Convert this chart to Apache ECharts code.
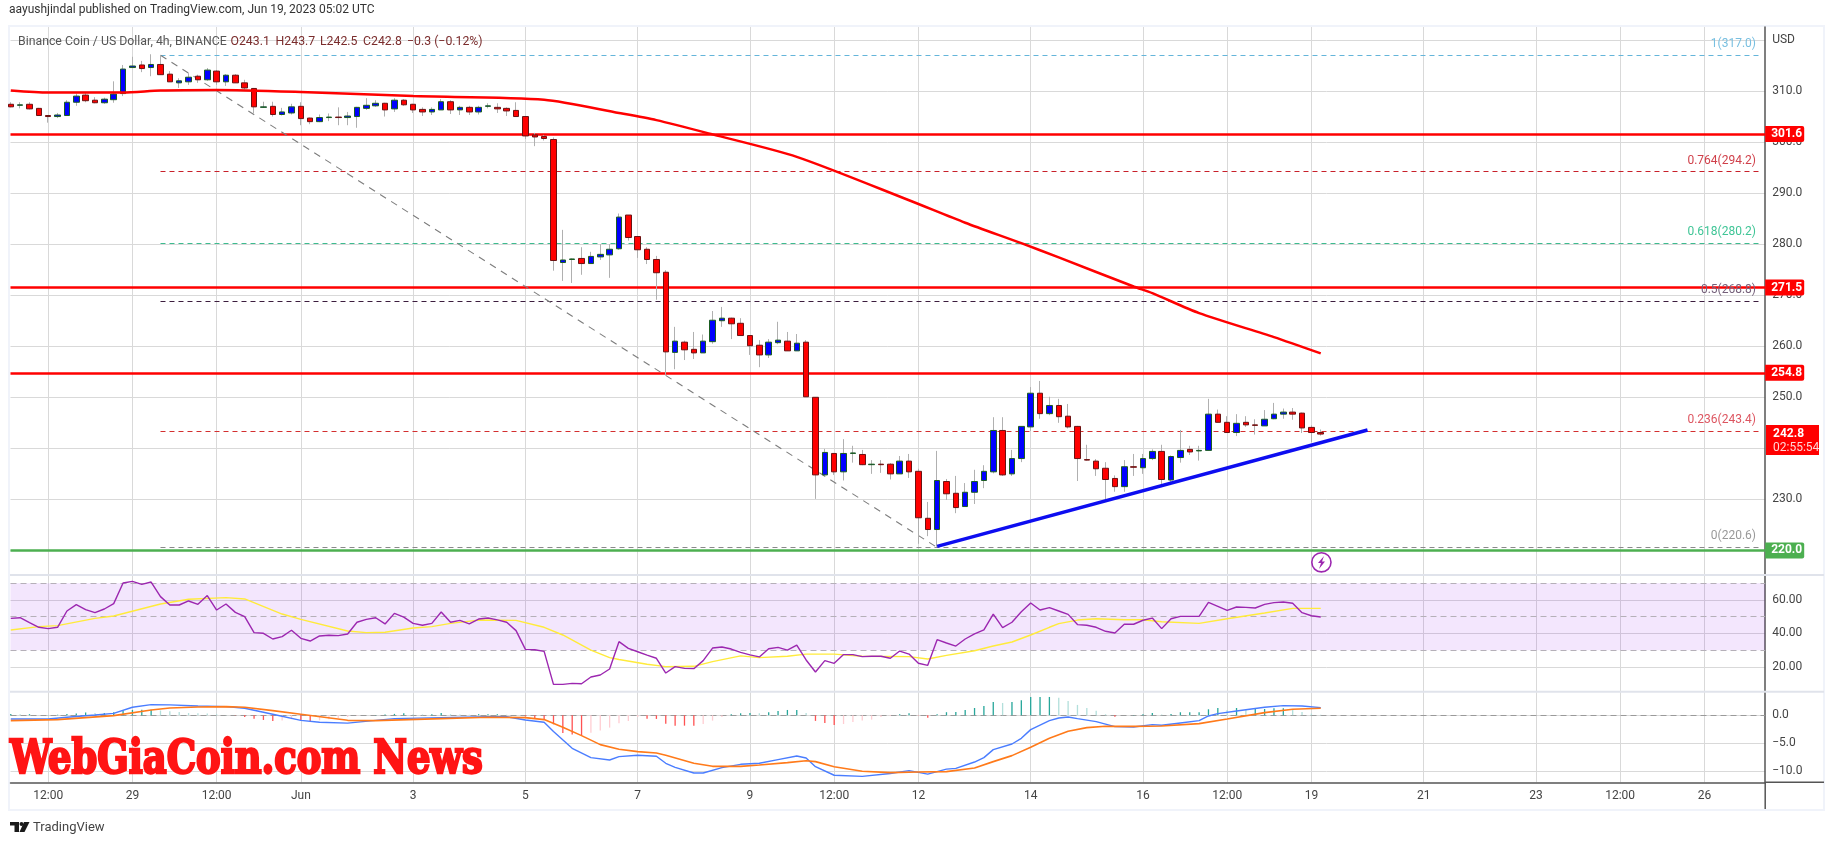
<!DOCTYPE html>
<html>
<head>
<meta charset="utf-8">
<style>html,body{margin:0;padding:0;background:#fff}#c{width:1835px;height:845px}</style>
<script src="https://cdn.jsdelivr.net/npm/echarts@6/dist/echarts.min.js"></script>
</head>
<body>
<div id="c"></div>
<script>
// ---- price data (4h candles) ----
const opens = [307.4,307.2,307.4,306.6,305.2,305,305.2,307.8,309.2,308.2,307.7,308.3,309.5,314.6,315.1,314.6,315.2,313.3,311.6,311.8,312.9,312.2,313.9,311.8,313.1,311.6,310.5,306.8,307,305.4,305.7,307,304.7,304,304.8,304.9,304.8,305,306.6,307.1,307.6,306.5,308.2,307.4,306.4,305.9,306.3,307.9,306.3,306.8,305.9,307,306.8,306.6,306.2,305,301.4,301.1,300.5,276.4,277,277.2,276.2,277.5,277.9,279.1,285.7,281.5,279,277,274.5,258.8,260.8,259.4,258.7,260.9,265,265.5,264.5,262.1,260.2,258.3,260.7,261,259.1,260.8,250,234.8,239,235.4,239,238.8,236.8,236.9,236.9,235,237.5,235.5,226.3,224.1,233.5,231.2,228.6,231.4,233.7,235.4,243.5,235,238,244.2,250.8,246.8,248.4,246.3,244.3,237.8,237.5,236.1,234.1,232.5,236.4,236.2,238,239.4,233.8,238.2,239.8,239.5,239.6,246.7,245.1,243.1,245.1,244.6,244.4,245.8,246.7,247.1,246.9,244.1,243.1];
const closes = [306.9,307.3,306.5,305.2,305,305.3,307.8,309,308.1,307.7,308.4,309.4,314.3,314.9,314.4,315.2,313.2,311.8,312,312.7,312.2,314.1,311.8,313.1,311.6,310.6,306.9,306.9,305.4,305.9,306.9,304.6,304,304.8,304.9,304.8,305.1,306.8,307.2,307.6,306.3,308.2,307.3,306.3,305.9,306.4,307.9,306.3,306.8,305.9,306.8,307.1,306.5,306.1,305,301.2,301,300.7,276.8,276.9,277.1,276.2,277.6,278,279,285.3,281.3,278.9,277,274.4,258.9,261,259.3,258.7,261,265.1,265.5,264.4,262.1,260.1,258.3,260.8,261.2,259.1,260.6,250.1,234.8,239.2,235.4,239,239.1,236.8,236.9,236.8,235,237.5,235.4,226.4,224.1,233.7,231.1,228.4,231.4,233.5,235.5,243.5,234.8,238,244.3,250.8,246.8,248.4,246.2,244.2,238,237.7,236,233.9,232.5,236.4,236.3,238,239.4,233.9,238.4,239.6,239.3,239.6,246.7,245.1,243.1,244.9,244.6,244.5,245.7,246.7,247.1,246.7,244,243.1,242.8];
const lows = [306.8,306.6,306.4,305.1,303.8,304.7,305.2,307.1,307.8,307.6,307.5,307.7,309,314.6,313.7,312.9,313.2,311.8,310.6,311.2,311.6,312,311.2,311,311.6,310.3,305.6,306.7,305,305.2,305.4,303.3,303.5,303.9,304.1,303.3,303.3,302.8,306.3,306.9,305,305.9,307.1,305.7,305.1,305.3,306.3,305.5,305.3,305.3,305.4,306.6,305.7,305.1,305,300.6,299.2,300.3,274.8,272.8,272.4,274,276.2,276.9,273.4,278.9,280.7,277.3,276.1,269.1,254.4,255.5,257.3,257.5,258.7,260.5,263.8,261.4,262.1,258.3,255.9,257.7,260.4,259.1,259.1,250.1,230.1,234.8,234.8,233.7,237.2,236.7,235,235.2,233.9,235,234.2,221.3,222.8,220.7,229.9,227.3,228.6,229.1,232.2,235.1,234.6,234.6,237.3,243.4,245.8,246.5,245,243.9,233.6,237.6,234.6,229.9,231.5,231.5,234.6,235,237.7,232.4,232.8,237.2,238.7,237.6,239.6,245.1,243.1,242.4,244.2,242.7,244.4,245.7,245.8,245.6,243,241.2,242.5];
const highs = [307.8,307.8,307.8,306.7,305.3,305.7,308.2,309.5,309.7,308.8,308.7,311.9,315.1,316.7,315.9,317.2,317,313.9,312.5,313.5,313.2,314.5,314.1,313.3,313.3,312.2,310.6,307.9,307.9,306.7,307.5,307.8,304.8,305.4,305.6,306.8,305.9,306.9,308.6,308.2,307.7,308.6,308.4,307.5,306.8,306.8,308.4,308.2,307.1,307.1,307.1,307.6,307.6,306.8,307.8,305.1,301.8,301.4,300.9,282.8,277.2,279.4,278.5,280,280,286,285.7,281.5,279.4,277.7,274.9,263.8,261.1,262.8,262.3,266.9,267.7,265.6,265.5,262.1,261.2,261.4,264.8,262.8,262.4,261.2,250,239.9,239.1,241.8,240.5,239.7,237.7,237.7,237.1,238.5,238.9,236,229.5,239.5,234,234.6,233.2,235.8,236.7,246.1,246.1,239.7,244.3,252,253.2,250.1,249.7,248.7,244.4,240.7,237.9,237.3,234.7,237.7,238.9,238.9,239.8,240.7,238.6,243.6,240.5,240.5,249.7,247.6,246.3,246.7,246.3,245.7,247.5,248.9,247.8,247.9,247,244.5,243.7];
// ---- moving average on price ----
const maIdx = [0,4,12,16,22,31,43,57,65,69,75,84,96,102,108,112,120,122,127,135,140];
const maVal = [310.1,309.7,309.7,310.1,310.2,309.8,309,308.3,305.7,304.3,301.5,297.1,288.6,284.2,280.2,277.4,271.7,270.4,266.5,261.8,258.6];
// ---- horizontal levels ----
const redLevels = [301.6,271.5,254.8];
const greenLevels = [220.0];
const fibRatios = ['1','0.764','0.618','0.5','0.236','0'];
const fibPrices = [317.0,294.2,280.2,268.8,243.4,220.6];
const fibColors = ['#64b5da','#c8202a','#3dbb8f','#3c1d3e','#d32f2f','#8a8a8a'];
const fibTextColors = ['#78bfe0','#d0404a','#3fc596','#75607a','#dd5560','#999999'];
const fibSpan = [16,187.05];
const swingLine = [[16,317.0],[99,220.6]];
const supportLine = [[99,220.8],[145,243.6]];
// ---- RSI ----
const rsiValues = [49,49.4,46.5,43.7,42.9,43.7,53.4,57.2,54.2,52.4,54.6,57.8,70.1,71.1,69.3,70.7,62,57,57,59.4,57.4,62.6,54,57.6,52.6,50,40.5,40.1,36.7,38.1,41.9,37.1,35.5,38.5,38.9,38.7,39.7,46.7,48.4,49.4,45.7,52,49.8,46,44.9,46,52.8,46.7,47.8,45.7,48.6,49.2,48.1,46.7,41.7,30.5,30.3,29.3,9.6,9.6,10.2,10,14,15.2,18.8,35.1,31.1,29.1,27.1,25.2,16.4,20.2,19.2,19,23.8,31.3,31.9,30.7,28.7,27.2,26,30.9,31.7,30.1,33.1,24.2,17,23.8,22.2,27.4,27.4,26.2,26.4,26.4,25.2,29.5,27.7,22.2,21,36.3,34.3,32.5,36.7,39.7,42.1,51.6,43.5,46.7,53,58.2,54,55.4,53.4,51.4,45.3,44.9,43.7,41.3,40.3,45.5,45.5,47.9,49.2,42.9,48.8,50.2,50.2,50.2,58.6,56.2,53.8,55.8,55.6,55.2,57.4,58.4,58.8,58,52.4,50.6,49.8];
const rsiMaIdx = [0,3,5,9,11,16,19,23,25,29,31,36,38,40,43,45,47,50,54,57,59,62,64,65,68,70,73,75,78,80,83,85,88,91,96,98,100,103,105,107,109,111,112,114,116,119,121,123,127,130,134,137,140];
const rsiMaVal = [42.1,44.1,44.7,49,50.4,57.6,60.4,61.4,60.6,51.6,48.4,41.5,40.5,40.7,43.3,44.1,46,48,47.8,43.7,39.1,30.1,25.6,24.5,21.6,20.2,20.4,23.2,26.6,25.6,26.4,27.7,27.7,26.4,26.2,24.8,26.9,29.7,32.5,34.9,39.1,43.7,45.9,48,48.8,48.2,48.2,47,46,48.8,52.2,55,55];
const rsiGuides = [70,50,30];
// ---- MACD ----
const macdIdx = [0,4,6,9,11,13,15,17,20,23,25,28,31,33,36,39,41,46,51,53,55,57,58,60,62,64,65,67,69,70,71,73,74,76,78,80,82,84,85,86,88,91,94,96,98,100,101,103,104,105,107,108,109,111,112,113,114,116,118,120,122,123,125,127,128,129,131,134,136,138,140];
const macdVal = [-0.65,-0.65,-0.35,0.06,0.35,1.43,1.9,1.85,1.65,1.55,1.25,0.18,-0.9,-1.25,-1.4,-0.9,-0.6,-0.42,-0.25,-0.25,-0.85,-1.25,-2.9,-5.9,-7.55,-7.98,-7.38,-7.14,-7.32,-8.57,-9.29,-10.3,-10.3,-9.35,-8.75,-8.57,-7.92,-7.26,-7.62,-9.17,-10.7,-10.9,-10.4,-9.88,-10.5,-9.6,-9.47,-8.34,-7.56,-6.13,-5.12,-4.11,-2.56,-0.95,-0.48,-0.3,-0.6,-1.13,-2.02,-2.08,-1.67,-1.79,-1.37,-0.95,-0.12,0.3,0.77,1.43,1.73,1.67,1.36];
const signalIdx = [0,5,11,15,17,20,23,25,28,31,36,39,46,51,55,57,59,61,63,65,67,69,70,73,75,78,80,83,85,86,88,91,94,97,100,103,105,107,109,111,113,115,117,120,123,127,130,134,137,140];
const signalVal = [-0.95,-0.77,-0.06,0.95,1.3,1.49,1.55,1.43,0.83,0.18,-0.9,-0.95,-0.6,-0.36,-0.42,-0.77,-2.15,-3.63,-5.24,-6.07,-6.49,-6.73,-7.14,-8.57,-9.11,-9.11,-8.87,-8.45,-8.1,-8.27,-9.17,-10,-10.24,-10.12,-10.06,-9.4,-8.27,-7.2,-5.72,-4.11,-2.86,-2.2,-1.97,-1.97,-1.9,-1.49,-0.66,0.48,1.07,1.25];
const histValues = [0.25,0.2,0.2,0.05,0.05,0.1,0.25,0.3,0.5,0.4,0.4,0.55,0.8,0.95,1,1,0.85,0.7,0.6,0.4,0.35,0.3,0.2,0.05,-0.05,-0.3,-0.6,-0.83,-1,-0.95,-0.7,-0.9,-1.13,-0.9,-0.7,-0.5,-0.3,-0.1,0,0.05,0.12,0.25,0.35,0.2,0.15,0.2,0.4,0.2,0.15,0.1,0.2,0.2,0.2,0.1,0,-0.2,-0.65,-0.8,-1.6,-3.15,-3.45,-3.6,-3.1,-2.7,-2.2,-1.4,-1,-0.3,-0.6,-0.65,-1.5,-1.85,-1.85,-1.85,-1.55,-0.95,-0.3,0.18,0.36,0.4,0.35,0.55,0.77,0.95,0.95,0.4,-1,-1.37,-1.73,-1.55,-1.2,-0.95,-0.77,-0.3,-0.12,0.18,0.36,-0.05,-0.42,0.18,0.55,0.6,0.95,1.3,1.67,2.38,2.2,2.38,2.68,3.27,3.27,3.27,3.15,2.56,1.85,1.3,0.83,0.18,-0.24,0,0.05,0.18,0.42,0.12,0.24,0.54,0.54,0.54,1.07,1.3,0.95,1.3,1.07,1.13,1.13,1.25,1.25,1.07,0.6,0.3,0.1];
// ---- axes ----
const timeTicks = [4,13,22,31,43,55,67,79,88,97,109,121,130,139,151,163,172,181];
const timeLabels = ['12:00','29','12:00','Jun','3','5','7','9','12:00','12','14','16','12:00','19','21','23','12:00','26'];
const priceTicks = [220,230,240,250,260,270,280,290,300,310,320];
const rsiTicks = [20,40,60];
const macdTicks = [-10,-5,0];

const FONT = 'Roboto, "Open Sans", sans-serif';
const GRID_C = '#d9d9d9', AXIS_C = '#555', TXT = '#444';
const xMin = -0.03, xMax = 187.5;
const zip = (a, b) => a.map((v, i) => [v, b[i]]);

const grids = [
  {left: 10.5, width: 1754.7, top: 27, height: 548},
  {left: 10.5, width: 1754.7, top: 575, height: 116.7},
  {left: 10.5, width: 1754.7, top: 691.7, height: 90.6}
];
const xAxes = [0, 1, 2].map(i => ({
  type: 'value', gridIndex: i, min: xMin, max: xMax, position: 'bottom',
  axisLine: {show: i === 2, onZero: false, lineStyle: {color: AXIS_C, width: 1.5}},
  axisTick: {show: false, customValues: timeTicks},
  splitLine: {show: true, lineStyle: {color: GRID_C, width: 1}},
  axisLabel: i === 2 ? {show: true, customValues: timeTicks, color: TXT, fontFamily: FONT, fontSize: 12, margin: 8,
    formatter: v => timeLabels[timeTicks.indexOf(Math.round(v))] || ''} : {show: false}
}));
function yAxis(i, min, max, ticks, fmt) {
  return {
    type: 'value', gridIndex: i, min, max, position: 'right', scale: true,
    axisLine: {show: true, onZero: false, lineStyle: {color: AXIS_C, width: 1.5}},
    axisTick: {show: false, customValues: ticks},
    splitLine: {show: true, lineStyle: {color: GRID_C, width: 1}},
    axisLabel: {show: true, inside: false, customValues: ticks, color: TXT, fontFamily: FONT, fontSize: 12, margin: 7, formatter: fmt}
  };
}
const yAxes = [
  yAxis(0, 215.19, 322.54, priceTicks, v => v === 320 ? 'USD' : v.toFixed(1)),
  yAxis(1, 5.25, 74.9, rsiTicks, v => v.toFixed(2)),
  yAxis(2, -11.96, 4.21, macdTicks, v => v.toFixed(1).replace('-', '\u2212'))
];

const wickData = opens.map((o, i) => [i, o, closes[i], lows[i], highs[i]]);
const bodyData = opens.map((o, i) => [i, o, closes[i], Math.min(o, closes[i]), Math.max(o, closes[i])]);
function histColor(i) {
  const v = histValues[i], p = i ? histValues[i - 1] : 0;
  if (v >= 0) return v >= p ? '#26a69a' : '#b2dfdb';
  return v <= p ? '#ff5252' : '#ffcdd2';
}
const levelLine = (v, color) => ({
  yAxis: v,
  lineStyle: {color, width: 2.5, type: 'solid'},
  label: {show: true, position: 'end', distance: 0, formatter: v.toFixed(1), color: '#fff', fontFamily: FONT, fontSize: 12, fontWeight: 'bold',
    backgroundColor: color, padding: [2, 4, 1, 6], width: 29, height: 13, lineHeight: 14, borderRadius: [0, 2, 2, 0]}
});

const series = [
  {type: 'line', name: 'levels', xAxisIndex: 0, yAxisIndex: 0, data: [], silent: true, z: 1,
    markLine: {silent: true, z: 1, symbol: 'none', animation: false,
      data: redLevels.map(v => levelLine(v, '#ff0000')).concat(greenLevels.map(v => levelLine(v, '#4caf50')))}},
  {type: 'line', name: 'fib', xAxisIndex: 0, yAxisIndex: 0, data: [], silent: true, z: 1,
    markLine: {silent: true, z: 1, symbol: 'none', animation: false,
      data: fibPrices.map((p, i) => [
        {coord: [fibSpan[0], p], lineStyle: {color: fibColors[i], width: 1, type: [5, 4]},
         label: {show: true, position: 'insideEndTop', distance: 5, formatter: fibRatios[i] + '(' + p.toFixed(1) + ')', color: fibTextColors[i], fontFamily: FONT, fontSize: 12}},
        {coord: [fibSpan[1], p]}
      ])}},
  {type: 'line', name: 'swing', xAxisIndex: 0, yAxisIndex: 0, data: swingLine, showSymbol: false, silent: true, z: 2,
    lineStyle: {color: '#7d7d7d', width: 1.1, type: [7, 6]}},
  {type: 'candlestick', name: 'wicks', xAxisIndex: 0, yAxisIndex: 0, data: wickData, barWidth: 1, silent: true, z: 3, animation: false,
    itemStyle: {color: '#b0b0b0', color0: '#b0b0b0', borderColor: '#b0b0b0', borderColor0: '#b0b0b0', borderWidth: 1}},
  {type: 'candlestick', name: 'BNBUSD', xAxisIndex: 0, yAxisIndex: 0, data: bodyData, barWidth: 6, silent: true, z: 4, animation: false,
    itemStyle: {color: '#0000ff', color0: '#ff0000', borderColor: '#1b5e20', borderColor0: '#6b1212', borderWidth: 1}},
  {type: 'line', name: 'MA', xAxisIndex: 0, yAxisIndex: 0, data: zip(maIdx, maVal), showSymbol: false, silent: true, z: 5, smooth: 0.25,
    lineStyle: {color: '#ff0000', width: 2.5}},
  {type: 'line', name: 'support', xAxisIndex: 0, yAxisIndex: 0, data: supportLine, showSymbol: false, silent: true, z: 6,
    lineStyle: {color: '#0d0df0', width: 3.5}},

  {type: 'line', name: 'RSI', xAxisIndex: 1, yAxisIndex: 1, data: rsiValues.map((v, i) => [i, v]), showSymbol: false, silent: true, z: 4,
    lineStyle: {color: '#9c27b0', width: 1.4},
    markArea: {silent: true, z: 1, itemStyle: {color: 'rgba(135,5,235,0.1)'}, data: [[{yAxis: rsiGuides[2]}, {yAxis: rsiGuides[0]}]]},
    markLine: {silent: true, z: 2, symbol: 'none', label: {show: false}, lineStyle: {color: '#b5b0b8', width: 1, type: [6, 4]},
      data: rsiGuides.map(v => ({yAxis: v}))}},
  {type: 'line', name: 'RSI MA', xAxisIndex: 1, yAxisIndex: 1, data: zip(rsiMaIdx, rsiMaVal), showSymbol: false, silent: true, z: 3,
    lineStyle: {color: '#ffeb3b', width: 1.4}},

  {type: 'bar', name: 'Hist', xAxisIndex: 2, yAxisIndex: 2, barWidth: 1.3, silent: true, z: 2,
    data: histValues.map((v, i) => ({value: [i, v], itemStyle: {color: histColor(i)}})),
    markLine: {silent: true, z: 1, symbol: 'none', label: {show: false}, lineStyle: {color: '#9a9a9a', width: 1, type: [6, 4]}, data: [{yAxis: 0}]}},
  {type: 'line', name: 'MACD', xAxisIndex: 2, yAxisIndex: 2, data: zip(macdIdx, macdVal), showSymbol: false, silent: true, z: 3,
    lineStyle: {color: '#4a7dff', width: 1.4}},
  {type: 'line', name: 'Signal', xAxisIndex: 2, yAxisIndex: 2, data: zip(signalIdx, signalVal), showSymbol: false, silent: true, z: 4,
    lineStyle: {color: '#ff7a1a', width: 1.6}}
];

const seg = (text, x, color) => ({type: 'text', x, y: 41.5, z: 20, style: {text, fill: color, font: '12.3px ' + FONT, textVerticalAlign: 'middle'}});
const graphic = [
  {type: 'rect', z: 0, silent: true, shape: {x: 9, y: 26, width: 1815, height: 784}, style: {fill: 'none', stroke: '#f0f3fa', lineWidth: 2}},
  {type: 'line', z: 10, silent: true, shape: {x1: 10, y1: 575, x2: 1824, y2: 575}, style: {stroke: '#e0e3eb', lineWidth: 2}},
  {type: 'line', z: 10, silent: true, shape: {x1: 10, y1: 691.7, x2: 1824, y2: 691.7}, style: {stroke: '#e0e3eb', lineWidth: 2}},
  {type: 'line', z: 10, silent: true, shape: {x1: 1765.2, y1: 782, x2: 1765.2, y2: 809}, style: {stroke: AXIS_C, lineWidth: 1.5}},
  {type: 'line', z: 10, silent: true, shape: {x1: 1765, y1: 782.3, x2: 1824, y2: 782.3}, style: {stroke: AXIS_C, lineWidth: 1.5}},
  {type: 'text', x: 9, y: 10, z: 20, style: {text: 'aayushjindal published on TradingView.com, Jun 19, 2023 05:02 UTC', fill: '#333', font: '12px ' + FONT, textVerticalAlign: 'middle'}},
  seg('Binance Coin / US Dollar, 4h, BINANCE', 18, '#555'),
  seg('O243.1', 230.5, '#7a2c2c'), seg('H243.7', 275.6, '#7a2c2c'), seg('L242.5', 320, '#7a2c2c'),
  seg('C242.8', 363, '#7a2c2c'), seg('\u22120.3 (\u22120.12%)', 407, '#7a2c2c'),
  // last price box
  {type: 'rect', z: 20, shape: {x: 1766, y: 425, width: 53, height: 30}, style: {fill: '#ff0000'}},
  {type: 'text', x: 1773, y: 434, z: 21, style: {text: '242.8', fill: '#fff', font: 'bold 12px ' + FONT, textVerticalAlign: 'middle'}},
  {type: 'text', x: 1773, y: 447.5, z: 21, style: {text: '02:55:54', fill: '#ffd6d6', font: '12px ' + FONT, textVerticalAlign: 'middle'}},
  // lightning badge
  {type: 'circle', z: 20, shape: {cx: 1321.4, cy: 562.3, r: 9.6}, style: {fill: '#fff', stroke: '#9c27b0', lineWidth: 1.6}},
  {type: 'polygon', z: 21, shape: {points: [[1324, 556], [1318, 563], [1321, 563], [1319, 569], [1325, 561.5], [1322, 561.5]]}, style: {fill: '#9c27b0'}},
  // watermark
  {type: 'text', x: 10, y: 761, z: 30, scaleX: 0.872, scaleY: 1,
    style: {text: 'WebGiaCoin.com News', fill: '#ff1414', stroke: '#ff1414', lineWidth: 2.4, font: 'bold 47px "DejaVu Serif Condensed", "DejaVu Serif", serif', textVerticalAlign: 'middle'}},
  // footer
  {type: 'rect', z: 20, shape: {x: 10, y: 822, width: 9, height: 3.5}, style: {fill: '#1a1a1a'}},
  {type: 'rect', z: 20, shape: {x: 14.5, y: 822, width: 4.5, height: 10}, style: {fill: '#1a1a1a'}},
  {type: 'circle', z: 20, shape: {cx: 21.5, cy: 824, r: 2}, style: {fill: '#1a1a1a'}},
  {type: 'polygon', z: 20, shape: {points: [[24, 822], [29.5, 822], [24.5, 832], [19.5, 832]]}, style: {fill: '#1a1a1a'}},
  {type: 'text', x: 33, y: 827.5, z: 20, style: {text: 'TradingView', fill: '#444', font: '13px ' + FONT, textVerticalAlign: 'middle'}}
];

const chart = echarts.init(document.getElementById('c'), null, {renderer: 'canvas'});
chart.setOption({
  animation: false,
  backgroundColor: '#fff',
  grid: grids, xAxis: xAxes, yAxis: yAxes,
  series, graphic
});
</script>
</body>
</html>
